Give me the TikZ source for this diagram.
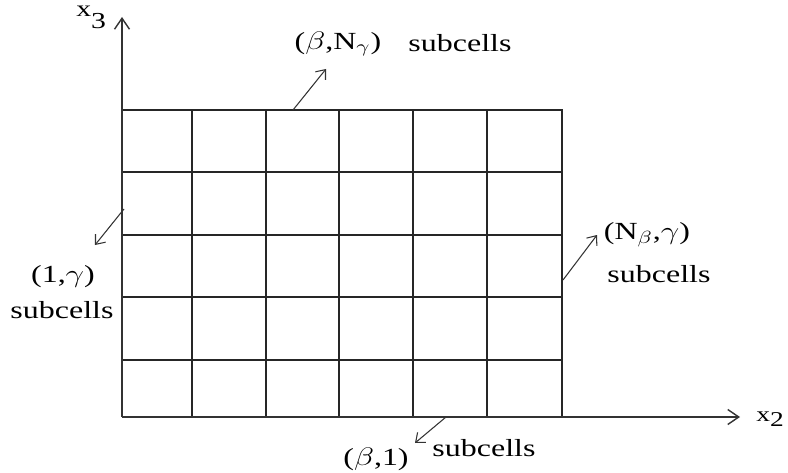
\documentclass[tikz,border=0pt]{standalone}
\usepackage{fontspec}
\setmainfont{Liberation Serif}
\usepackage{graphicx}
\usetikzlibrary{arrows.meta}
\newcommand{\widetxt}[1]{\scalebox{1.3}[1]{#1}}

\begin{document}
\begin{tikzpicture}[
  x=0.02cm, y=-0.02cm,
  font=\fontsize{14}{16}\selectfont,
  cellgrid/.style={draw=black!85, line width=0.9pt},
  axis/.style={-{Straight Barb[length=2.2mm,width=3mm]}, draw=black!80,
               line width=0.8pt},
  pointer/.style={-{Straight Barb[length=1.6mm,width=2.6mm]}, draw=black!80,
               line width=0.6pt},
  tag/.style={inner sep=0pt},
  axlabel/.style={inner sep=0pt, font=\fontsize{12}{14}\selectfont}]

\useasboundingbox (0,0) rectangle (788,473);

%% ---- rejilla de subceldas ----
\foreach \xx in {192,266,339,413,487}
  \draw[cellgrid] (\xx,110) -- (\xx,417);
\foreach \yy in {172,235,297,360}
  \draw[cellgrid] (122,\yy) -- (562,\yy);
\draw[cellgrid] (122,110) -- (562,110) -- (562,417);

%% ---- ejes ----
\coordinate (origin) at (122,417);
\coordinate (x2tip) at (740,417);
\coordinate (x3tip) at (122,17);
\draw[axis] (origin) -- (x2tip);
\draw[axis] (origin) -- (x3tip);
\node[axlabel, anchor=base west] (x2lbl) at (756,421)
  {\widetxt{x\raisebox{-3.4pt}{2}}};
\node[axlabel, anchor=base west, font=\fontsize{13}{15}\selectfont]
  (x3lbl) at (76,17) {\widetxt{x\raisebox{-6.5pt}{3}}};

%% ---- etiquetas de las subceldas ----
\node[tag] (topLbl) at (338,44) {\widetxt{($\beta$,N$_\gamma$)}};
\node[tag, anchor=base] (topSub) at (460,52) {\widetxt{subcells}};
\node[tag] (leftLbl) at (63,277) {\widetxt{(1,$\gamma$)}};
\node[tag, anchor=base] (leftSub) at (62,318) {\widetxt{subcells}};
\node[tag] (rightLbl) at (647,235) {\widetxt{(N$_\beta$,$\gamma$)}};
\node[tag, anchor=base] (rightSub) at (659,282) {\widetxt{subcells}};
\node[tag] (botLbl) at (376,459) {\widetxt{($\beta$,1)}};
\node[tag, anchor=base] (botSub) at (484,456) {\widetxt{subcells}};

%% ---- flechas desde el borde de la rejilla ----
\coordinate (topfoot) at (293,110);   \coordinate (toptip) at (326,69);
\coordinate (leftfoot) at (124,209);  \coordinate (lefttip) at (95,245);
\coordinate (rightfoot) at (563,280); \coordinate (righttip) at (597,235);
\coordinate (botfoot) at (446,417);   \coordinate (bottip) at (415,443);
\draw[pointer] (topfoot) -- (toptip);
\draw[pointer] (leftfoot) -- (lefttip);
\draw[pointer] (rightfoot) -- (righttip);
\draw[pointer] (botfoot) -- (bottip);
\end{tikzpicture}
\end{document}
